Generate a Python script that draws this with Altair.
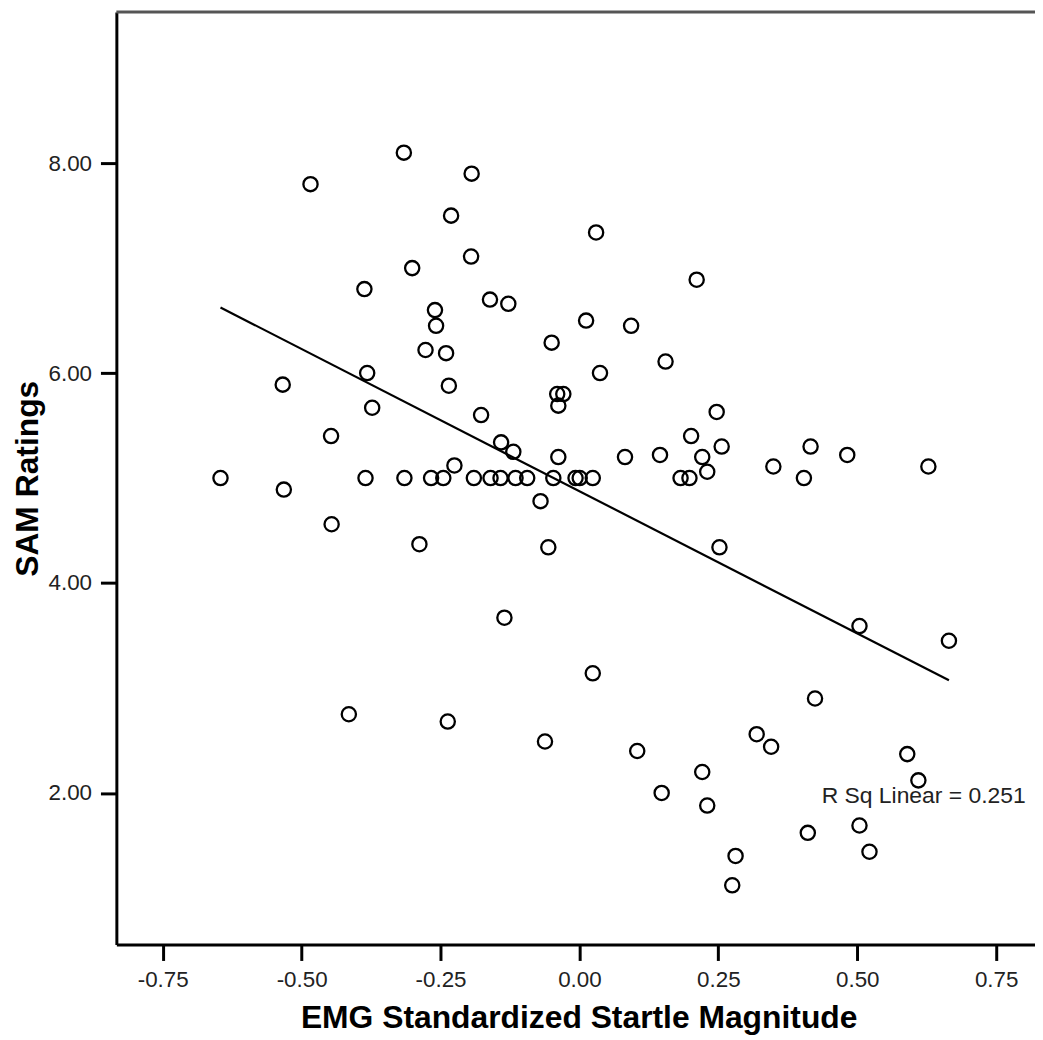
import altair as alt
import pandas as pd

# EMG standardized startle magnitude (x) and SAM ratings (y)
emg = [-0.316, -0.484, -0.194, -0.231, 0.030, -0.195, -0.301, 0.211, -0.387, -0.161,
       -0.128, -0.260, -0.258, 0.012, 0.093, -0.277, -0.240, -0.050, 0.155, -0.534,
       -0.382, 0.037, -0.235, -0.373, -0.040, -0.029, -0.038, -0.177, 0.247, -0.447,
       -0.141, -0.119, 0.201, 0.256, 0.416, 0.482, -0.038, 0.082, 0.145, 0.221,
       0.230, -0.225, 0.349, 0.628,
       -0.646, -0.385, -0.315, -0.267, -0.245, -0.190, -0.160, -0.142, -0.115, -0.094,
       -0.047, -0.007, 0.0005, 0.024, 0.182, 0.198, 0.404,
       -0.070, -0.532, -0.446, -0.288, -0.056, 0.252, -0.135, 0.504, 0.665,
       0.024, 0.424, -0.415, -0.237, -0.062, 0.104, 0.319, 0.345, 0.590, 0.610,
       0.221, 0.148, 0.230, 0.411, 0.504, 0.522, 0.281, 0.275]
sam = [8.10, 7.80, 7.90, 7.50, 7.34, 7.11, 7.00, 6.89, 6.80, 6.70,
       6.66, 6.60, 6.45, 6.50, 6.45, 6.22, 6.19, 6.29, 6.11, 5.89,
       6.00, 6.00, 5.88, 5.67, 5.80, 5.80, 5.69, 5.60, 5.63, 5.40,
       5.34, 5.25, 5.40, 5.30, 5.30, 5.22, 5.20, 5.20, 5.22, 5.20,
       5.06, 5.12, 5.11, 5.11,
       5.00, 5.00, 5.00, 5.00, 5.00, 5.00, 5.00, 5.00, 5.00, 5.00,
       5.00, 5.00, 5.00, 5.00, 5.00, 5.00, 5.00,
       4.78, 4.89, 4.56, 4.37, 4.34, 4.34, 3.67, 3.59, 3.45,
       3.14, 2.90, 2.75, 2.68, 2.49, 2.40, 2.56, 2.44, 2.37, 2.12,
       2.20, 2.00, 1.88, 1.62, 1.69, 1.44, 1.40, 1.12]

x_ticks = [-0.75, -0.50, -0.25, 0.00, 0.25, 0.50, 0.75]
y_ticks = [2.0, 4.0, 6.0, 8.0]
x_domain = [-0.8334, 0.8199]
y_domain = [0.556, 9.44]
annotation = ["R Sq Linear = 0.251"]
annotation_x = [0.436]
annotation_y = [1.974]

W, H = 924, 938

df = pd.DataFrame({"emg": emg, "sam": sam})
top_df = pd.DataFrame({"sam": [y_domain[1]]})
ann_df = pd.DataFrame({"emg": annotation_x, "sam": annotation_y, "label": annotation})

xs = alt.Scale(domain=x_domain, nice=False, zero=False)
ys = alt.Scale(domain=y_domain, nice=False, zero=False)

x_axis = alt.Axis(values=x_ticks,
                  labelExpr="(datum.value < 0 ? '-' : '') + format(abs(datum.value), '.2f')",
                  labelPadding=8,
                  titleBaseline="alphabetic", titleY=83, titleX=465, titleAlign="center")
y_axis = alt.Axis(values=y_ticks,
                  labelExpr="format(datum.value, '.2f')",
                  labelPadding=9,
                  titleBaseline="alphabetic", titleX=-79)

X = alt.X("emg:Q", scale=xs, axis=x_axis, title="EMG Standardized Startle Magnitude")
Y = alt.Y("sam:Q", scale=ys, axis=y_axis, title="SAM Ratings")

points = alt.Chart(df).mark_point(shape="circle", filled=False, size=205,
                                  strokeWidth=2.3, color="black", opacity=1).encode(x=X, y=Y)

line = alt.Chart(df).transform_regression("emg", "sam").mark_line(
    color="black", strokeWidth=2.2).encode(x=X, y=Y)

top = alt.Chart(top_df).mark_rule(color="#555555", strokeWidth=3).encode(
    y=Y, x=alt.value(0), x2=alt.value(W))

text = alt.Chart(ann_df).mark_text(align="left", baseline="middle", font="Liberation Sans",
                                   fontSize=23, color="#222222").encode(x=X, y=Y, text="label:N")

chart = alt.layer(points, line, top, text).properties(
    width=W, height=H,
    autosize=alt.AutoSizeParams(type="none"),
    padding={"left": 109, "top": 1, "right": 0, "bottom": 92},
    background="white",
).configure_view(stroke=None).configure_axis(
    grid=False,
    domainColor="black", domainWidth=3,
    tickColor="black", tickWidth=3, tickSize=16,
    labelFont="Liberation Sans", labelFontSize=22.5, labelColor="#222222",
    titleFont="Liberation Sans", titleFontSize=32, titleFontWeight="bold", titleColor="black",
)

chart.save("out.html", embed_options={"renderer": "svg", "actions": False})
